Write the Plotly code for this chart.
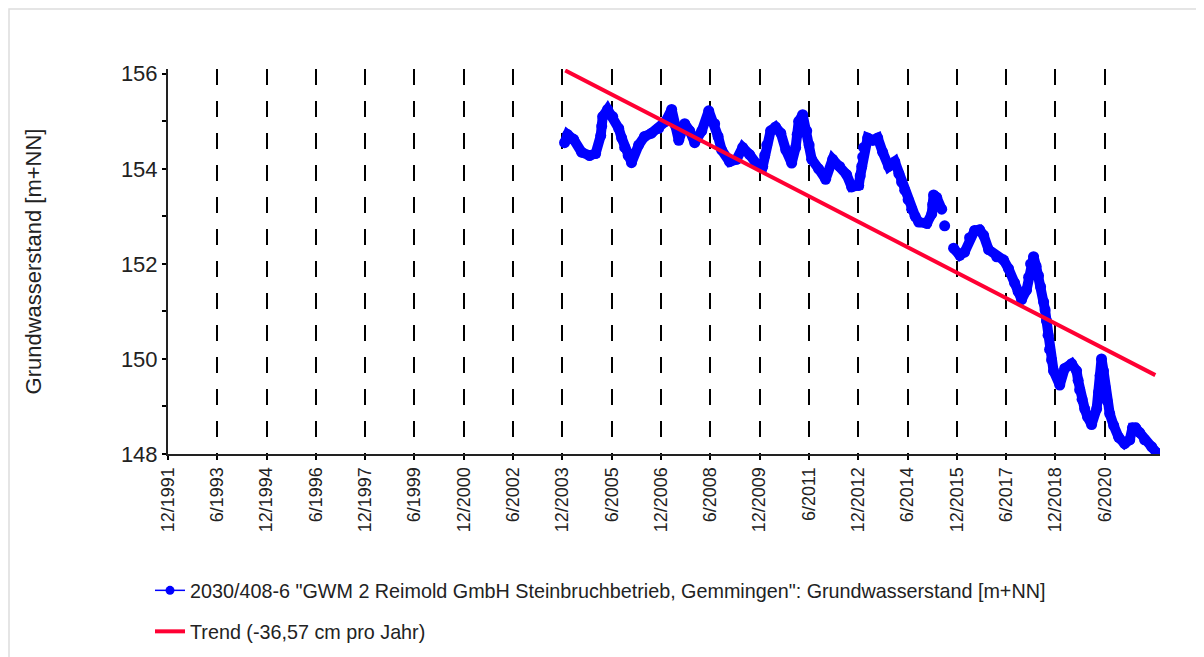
import plotly.graph_objects as go

# ---------------- data ----------------
dates = [
    "2003-12-25", "2004-01-28", "2004-04-04", "2004-07-01", "2004-09-28", "2004-12-04",
    "2005-01-30", "2005-02-10", "2005-02-21", "2005-04-16", "2005-06-12", "2005-08-18",
    "2005-09-19", "2005-10-23", "2005-12-01", "2006-01-07", "2006-03-27", "2006-06-01",
    "2006-08-17", "2006-11-04", "2007-01-22", "2007-03-29", "2007-05-12", "2007-06-16",
    "2007-08-21", "2007-10-15", "2007-12-10", "2008-02-27", "2008-05-14", "2008-07-19",
    "2008-08-26", "2008-10-04", "2009-01-01", "2009-03-20", "2009-05-26", "2009-08-11",
    "2009-10-29", "2010-01-04", "2010-01-26", "2010-02-18", "2010-04-02", "2010-05-27",
    "2010-07-24", "2010-09-17", "2010-11-22", "2011-01-05", "2011-01-22", "2011-02-08",
    "2011-03-24", "2011-05-08", "2011-06-04", "2011-07-02", "2011-09-17", "2011-12-04",
    "2012-02-20", "2012-05-08", "2012-07-24", "2012-09-18", "2012-12-06", "2012-12-22",
    "2013-01-08", "2013-01-19", "2013-01-30", "2013-03-15", "2013-05-11", "2013-07-05",
    "2013-08-29", "2013-11-04", "2014-01-11", "2014-02-24", "2014-03-27", "2014-05-01",
    "2014-06-08", "2014-07-17", "2014-08-25", "2014-10-04", "2015-01-01", "2015-02-25",
    "2015-03-08", "2015-03-18", "2015-04-21", "2015-06-16", "2015-07-05", "2015-07-19",
    "2015-08-30", "2015-10-26", "2016-01-03", "2016-02-26", "2016-04-21", "2016-06-15",
    "2016-08-10", "2016-09-24", "2016-11-18", "2017-02-16", "2017-05-04", "2017-06-28",
    "2017-09-03", "2017-10-12", "2017-11-20", "2018-01-14", "2018-02-06", "2018-02-28",
    "2018-04-02", "2018-04-30", "2018-05-27", "2018-06-19", "2018-07-23", "2018-08-08",
    "2018-08-24", "2018-09-10", "2018-09-27", "2018-10-19", "2018-11-10", "2019-01-18",
    "2019-03-14", "2019-05-30", "2019-07-24", "2019-08-10", "2019-08-27", "2019-09-23",
    "2019-10-22", "2019-11-23", "2020-01-07", "2020-03-03", "2020-03-25", "2020-04-10",
    "2020-04-26", "2020-05-18", "2020-06-05", "2020-06-27", "2020-07-26", "2020-09-08",
    "2020-11-03", "2021-01-08", "2021-03-06", "2021-04-05", "2021-05-11", "2021-06-24",
    "2021-08-18", "2021-11-05", "2022-01-01",
]
levels = [
    154.55, 154.72, 154.62, 154.35, 154.28, 154.32,
    154.70, 154.90, 155.10, 155.25, 155.10, 154.85,
    154.65, 154.45, 154.28, 154.13, 154.50, 154.68,
    154.75, 154.85, 155.00, 155.25, 154.90, 154.60,
    154.95, 154.80, 154.55, 154.80, 155.22, 154.95,
    154.68, 154.40, 154.15, 154.20, 154.45, 154.30,
    154.10, 154.05, 154.28, 154.50, 154.80, 154.88,
    154.75, 154.40, 154.12, 154.45, 154.72, 155.00,
    155.14, 154.80, 154.50, 154.20, 154.00, 153.78,
    154.20, 154.05, 153.88, 153.62, 153.65, 153.85,
    154.05, 154.25, 154.45, 154.65, 154.60, 154.65,
    154.35, 154.05, 154.15, 153.90, 153.72, 153.55,
    153.35, 153.15, 153.00, 152.88, 152.85, 153.05,
    153.25, 153.45, 153.40, 153.15, None, 152.80,
    None, 152.33, 152.18, 152.25, 152.55, 152.70,
    152.72, 152.60, 152.30, 152.15, 152.08, 151.90,
    151.60, 151.42, 151.25, 151.45, 151.72, 152.00,
    152.15, 151.95, 151.75, 151.52, 151.20, 151.03,
    150.80, 150.50, 150.20, 149.98, 149.75, 149.45,
    149.80, 149.90, 149.75, 149.55, 149.35, 149.15,
    148.95, 148.78, 148.62, 148.95, 149.30, 149.65,
    150.00, 149.75, 149.40, 149.12, 148.85, 148.60,
    148.35, 148.22, 148.30, 148.55, 148.55, 148.45,
    148.30, 148.15, 148.02,
]

trend_dates = ["2004-01-01", "2021-12-15"]
trend_values = [156.07, 149.66]

tick_labels = [
    "12/1991", "6/1993", "12/1994", "6/1996", "12/1997", "6/1999", "12/2000",
    "6/2002", "12/2003", "6/2005", "12/2006", "6/2008", "12/2009", "6/2011",
    "12/2012", "6/2014", "12/2015", "6/2017", "12/2018", "6/2020",
]
y_tick_values = [148, 150, 152, 154, 156]

series_name = ('2030/408-6 "GWM 2 Reimold GmbH Steinbruchbetrieb, Gemmingen": '
               'Grundwasserstand [m+NN]')
trend_name = "Trend (-36,57 cm pro Jahr)"

# --------------------------------------------------------------------------
tick_vals = []
for lab in tick_labels:
    m, y = lab.split("/")
    tick_vals.append(f"{y}-{int(m):02d}-01")

FONT = "Liberation Sans, Arial, sans-serif"
W, H = 1204, 657
OFF = 8  # default body margin of the html page
L, R, T, B = 160, 52, 61, 211
PW, PH = W - L - R, H - T - B


def px_x(page):
    return (page - OFF - L) / PW


def px_y(page):
    return ((H - B) - (page - OFF)) / PH


BLUE = "#0000ff"
fig = go.Figure()
# dense measurement band (same data, drawn thick like the overlapping markers)
fig.add_trace(go.Scatter(
    x=dates, y=levels, mode="lines", showlegend=False, hoverinfo="skip",
    line=dict(color=BLUE, width=10), connectgaps=False,
))
fig.add_trace(go.Scatter(
    x=dates, y=levels, name=series_name, mode="lines+markers",
    line=dict(color=BLUE, width=1.5),
    marker=dict(color=BLUE, size=11),
    connectgaps=False, showlegend=False,
))
# legend entry for the measurement series (thin line with small marker)
fig.add_trace(go.Scatter(
    x=[None], y=[None], name=series_name, mode="lines+markers",
    line=dict(color=BLUE, width=1.5), marker=dict(color=BLUE, size=9),
    legend="legend",
))
fig.add_trace(go.Scatter(
    x=trend_dates, y=trend_values, name=trend_name, mode="lines",
    line=dict(color="#ff0033", width=4), legend="legend2",
))

leg_common = dict(xref="paper", yref="paper", xanchor="left", yanchor="top",
                  font=dict(size=19.75, color="#222"), bgcolor="rgba(0,0,0,0)",
                  borderwidth=0, orientation="v")
fig.update_layout(
    width=W, height=H,
    margin=dict(l=L, r=R, t=T, b=B, autoexpand=False),
    paper_bgcolor="white", plot_bgcolor="white",
    font=dict(family=FONT, color="#222222"),
    showlegend=True,
    legend=dict(x=px_x(150), y=px_y(571), **leg_common),
    legend2=dict(x=px_x(150), y=px_y(612), **leg_common),
    shapes=[dict(type="rect", xref="paper", yref="paper",
                 x0=px_x(OFF + 1), x1=px_x(1197), y0=px_y(H + 20), y1=px_y(OFF + 1),
                 line=dict(color="#dddddd", width=1.5), fillcolor="rgba(0,0,0,0)",
                 layer="below")],
)

fig.update_xaxes(
    type="date", range=["1991-12-01", "2022-02-05"],
    tickvals=tick_vals, ticktext=tick_labels, tickangle=-90,
    tickfont=dict(size=18, color="#222"),
    ticks="outside", ticklen=4, tickcolor="black", tickwidth=1.5,
    showline=True, linecolor="#222", linewidth=2,
    showgrid=True, gridcolor="black", gridwidth=1.5, griddash="16px,16px",
    zeroline=False,
)
fig.update_yaxes(
    range=[148, 156.1], tickvals=y_tick_values,
    tickfont=dict(size=22, color="#222"),
    ticks="outside", ticklen=4, tickcolor="black", tickwidth=1.5,
    minor=dict(dtick=1, tick0=148, ticks="outside", ticklen=4, tickcolor="black",
               tickwidth=1.5, showgrid=False),
    showline=True, linecolor="#222", linewidth=2,
    showgrid=False, zeroline=False,
    title=dict(text="Grundwasserstand [m+NN]", font=dict(size=22, color="#222"),
               standoff=73),
)

fig.write_html("out.html")
